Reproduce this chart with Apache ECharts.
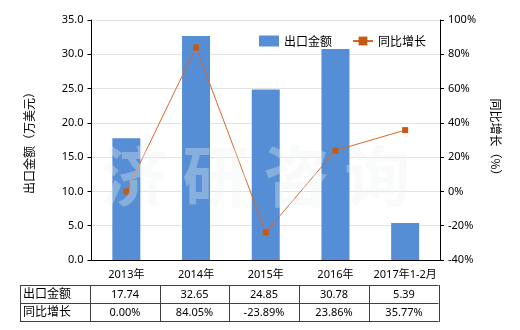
<!DOCTYPE html>
<html><head><meta charset="utf-8">
<script src="https://cdn.jsdelivr.net/npm/echarts@6/dist/echarts.min.js"></script>
<style>html,body{margin:0;padding:0;background:#fff}#c{width:520px;height:330px}</style>
</head><body><div id="c"></div>
<script>
const categories = ['2013年','2014年','2015年','2016年','2017年1-2月'];
const exportValues = [17.74, 32.65, 24.85, 30.78, 5.39];
const growthValues = [0.00, 84.05, -23.89, 23.86, 35.77];
const exportLabels = ['17.74','32.65','24.85','30.78','5.39'];
const growthLabels = ['0.00%','84.05%','-23.89%','23.86%','35.77%'];
const seriesNames = ['出口金额','同比增长'];

const FONT = '"Noto Sans", "Noto Sans CJK SC", sans-serif';
const gL = 91.5, gR = 440, gT = 20, gB = 260;
const chart = echarts.init(document.getElementById('c'), null, {renderer:'canvas'});

// table graphics
const tTop = 285, tMid = 303, tBot = 321, tLeft = 20;
const bandW = (gR - gL) / categories.length;
const g = [];
const lineStyle = {stroke:'#404040', lineWidth:1};
[tTop, tMid, tBot].forEach(y => g.push({type:'line', shape:{x1:tLeft, y1:y+0.5, x2:gR-1.5, y2:y+0.5}, style:lineStyle, silent:true}));
const edges = [tLeft];
for (let i = 0; i <= categories.length; i++) edges.push(Math.round(gL + i*bandW - 1.5));
edges.forEach(x => g.push({type:'line', shape:{x1:x+0.5, y1:tTop, x2:x+0.5, y2:tBot+1}, style:lineStyle, silent:true}));
const rows = [[seriesNames[0], exportLabels],[seriesNames[1], growthLabels]];
rows.forEach((r, ri) => {
  const yc = (ri === 0 ? (tTop+tMid)/2 : (tMid+tBot)/2) + 1;
  g.push({type:'text', left:tLeft+3, top:yc-8, style:{text:r[0], fill:'#000', font:'12px "Noto Sans CJK SC"'}});
  r[1].forEach((t, i) => {
    const cx = (edges[i+1] + edges[i+2]) / 2;
    g.push({type:'text', x:cx, y:yc, style:{text:t, fill:'#000', font:'11px ' + FONT, align:'center', verticalAlign:'middle'}});
  });
});
// watermark
g.push({type:'text', x:256, y:176, z:100, style:{text:'济 研 咨 询', fill:'rgba(236,243,239,0.33)', font:'bold 66px "Noto Sans CJK SC"', align:'center', verticalAlign:'middle'}, silent:true});

chart.setOption({
  animation:false,
  backgroundColor:'#fff',
  textStyle:{fontFamily:FONT},
  grid:{left:gL, right:520-gR, top:gT, bottom:330-gB, containLabel:false},
  legend:{
    top:30, left:254, itemGap:20, itemWidth:20, itemHeight:11,
    textStyle:{fontSize:12, color:'#000', fontFamily:'"Noto Sans CJK SC"'},
    data:[{name:seriesNames[0], icon:'rect'},{name:seriesNames[1]}]
  },
  xAxis:{
    type:'category', data:categories,
    axisLine:{lineStyle:{color:'#000'}},
    axisTick:{show:false},
    axisLabel:{color:'#000', fontSize:11, margin:9, interval:0, fontFamily:FONT}
  },
  yAxis:[{
    type:'value', min:0, max:35, interval:5,
    name:'出口金额（万美元）', nameLocation:'middle', nameGap:56, nameRotate:90,
    nameTextStyle:{fontSize:12, color:'#000', fontFamily:'"Noto Sans CJK SC"'},
    axisLine:{show:true, lineStyle:{color:'#000'}},
    axisTick:{show:true, length:4, lineStyle:{color:'#000'}},
    axisLabel:{color:'#000', fontSize:11, formatter:v=>v.toFixed(1)},
    splitLine:{lineStyle:{color:'#e3e3e3'}}
  },{
    type:'value', min:-40, max:100, interval:20, position:'right',
    name:'同比增长（%）', nameLocation:'middle', nameGap:50, nameRotate:-90,
    nameTextStyle:{fontSize:12, color:'#000', fontFamily:'"Noto Sans CJK SC"'},
    axisLine:{show:true, lineStyle:{color:'#000'}},
    axisTick:{show:true, length:4, lineStyle:{color:'#000'}},
    axisLabel:{color:'#000', fontSize:11, formatter:v=>v+'%'},
    splitLine:{show:false}
  }],
  series:[{
    name:seriesNames[0], type:'bar', data:exportValues, barWidth:28,
    itemStyle:{color:'#558ed5'}
  },{
    name:seriesNames[1], type:'line', yAxisIndex:1, data:growthValues,
    symbol:'rect', symbolSize:6,
    lineStyle:{color:'#d9662a', width:1},
    itemStyle:{color:'#c55a11'}
  }],
  graphic:g
});
</script></body></html>
